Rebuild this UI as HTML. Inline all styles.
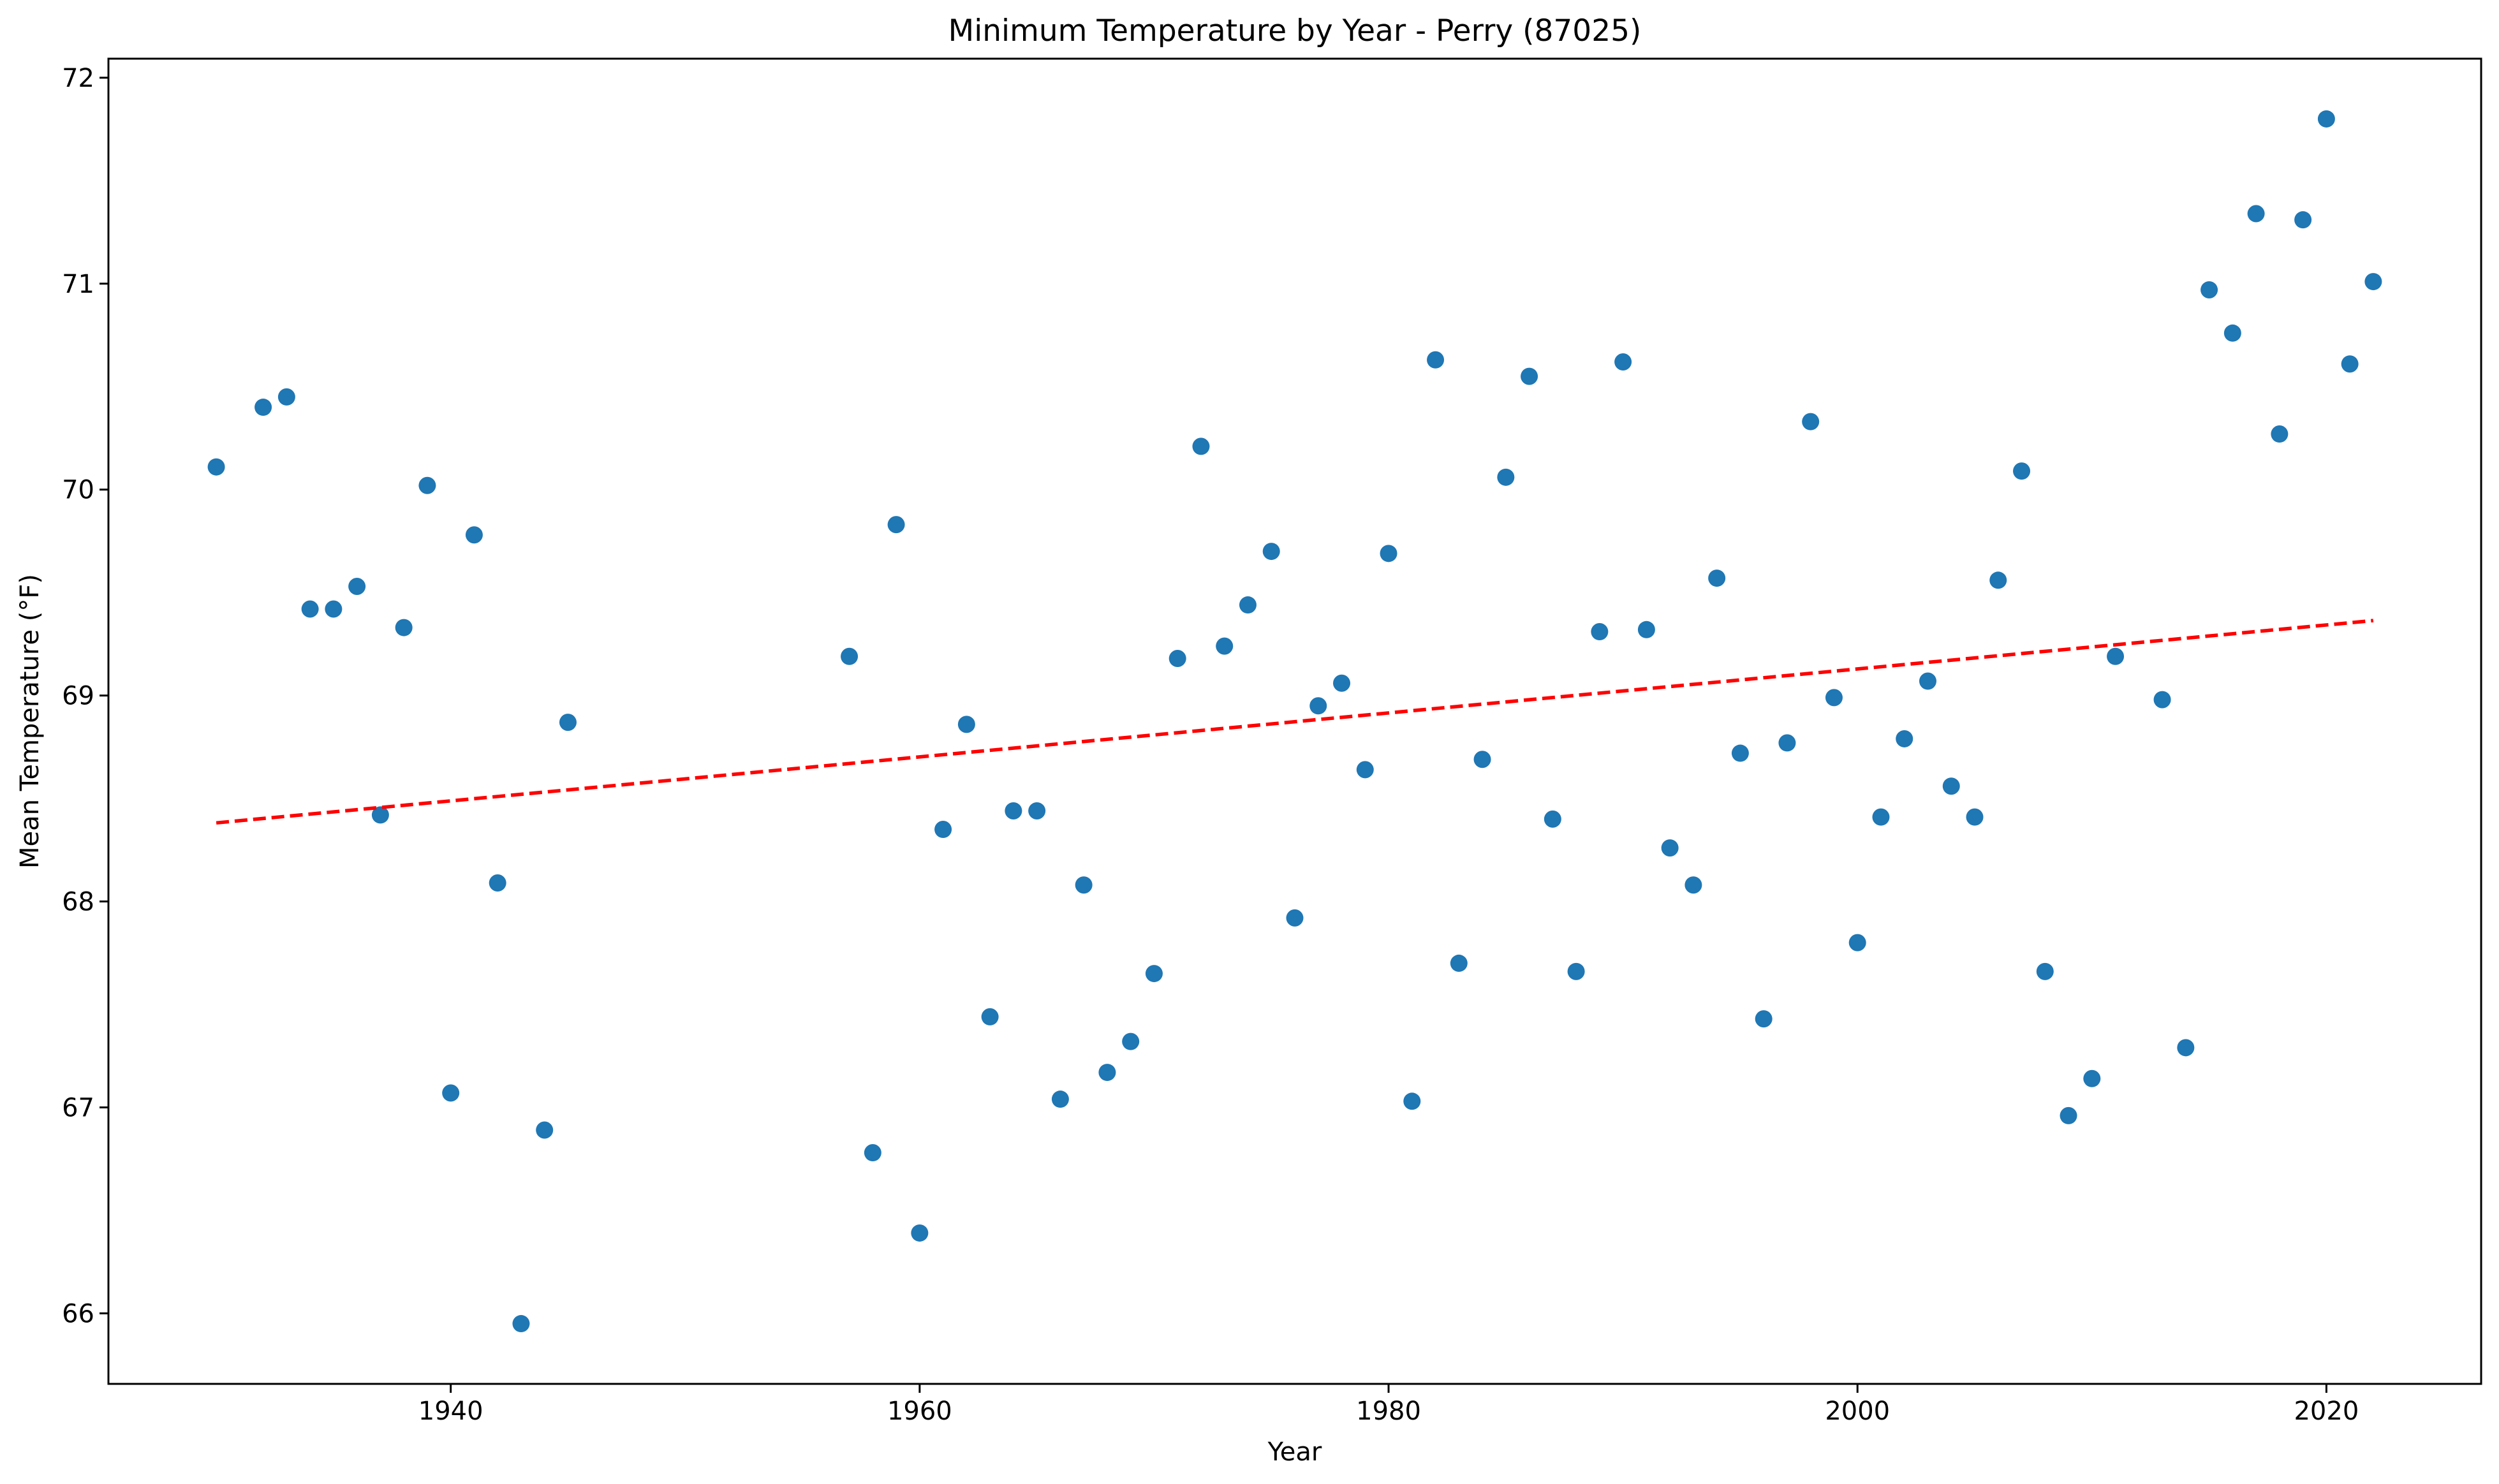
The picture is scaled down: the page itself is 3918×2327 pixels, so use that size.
<!DOCTYPE html>
<html><head><meta charset="utf-8"><style>
html,body{margin:0;padding:0;background:#fff;}
svg{display:block;font-family:"DejaVu Sans","Liberation Sans",sans-serif;}
</style></head><body>
<svg id="chart" width="3918" height="2327" viewBox="0 0 3918 2327">
<rect width="3918" height="2327" fill="#fff"/>
<text x="2030" y="64" font-size="47" text-anchor="middle">Minimum Temperature by Year - Perry (87025)</text>
<text x="2030" y="2290" font-size="40" text-anchor="middle">Year</text>
<text x="60" y="1131" font-size="40" text-anchor="middle" transform="rotate(-90 60 1131)">Mean Temperature (°F)</text>
<g id="ticks"></g>
<g id="points"></g>
<g id="trend"></g>
<rect x="170" y="92" width="3720" height="2078" fill="none" stroke="#000" stroke-width="3"/>
</svg>
<script>
const years=[1930,1932,1933,1934,1935,1936,1937,1938,1939,1940,1941,1942,1943,1944,1945,1957,1958,1959,1960,1961,1962,1963,1964,1965,1966,1967,1968,1969,1970,1971,1972,1973,1974,1975,1976,1977,1978,1979,1980,1981,1982,1983,1984,1985,1986,1987,1988,1989,1990,1991,1992,1993,1994,1995,1996,1997,1998,1999,2000,2001,2002,2003,2004,2005,2006,2007,2008,2009,2010,2011,2013,2014,2015,2016,2017,2018,2019,2020,2021,2022];
const temps=[70.11,70.40,70.45,69.42,69.42,69.53,68.42,69.33,70.02,67.07,69.78,68.09,65.95,66.89,68.87,69.19,66.78,69.83,66.39,68.35,68.86,67.44,68.44,68.44,67.04,68.08,67.17,67.32,67.65,69.18,70.21,69.24,69.44,69.70,67.92,68.95,69.06,68.64,69.69,67.03,70.63,67.70,68.69,70.06,70.55,68.40,67.66,69.31,70.62,69.32,68.26,68.08,69.57,68.72,67.43,68.77,70.33,68.99,67.80,68.41,68.79,69.07,68.56,68.41,69.56,70.09,67.66,66.96,67.14,69.19,68.98,67.29,70.97,70.76,71.34,70.27,71.31,71.80,70.61,71.01];
const xTicks=[1940,1960,1980,2000,2020];
const yTicks=[66,67,68,69,70,71,72];
const NS='http://www.w3.org/2000/svg';
const L=170,R=3890,T=92,B=2170;
const xmin=Math.min(...years),xmax=Math.max(...years),xs=(xmax-xmin)*0.05;
const ymin=Math.min(...temps),ymax=Math.max(...temps),ys=(ymax-ymin)*0.05;
const X0=xmin-xs,X1=xmax+xs,Y0=ymin-ys,Y1=ymax+ys;
const x=v=>L+(v-X0)/(X1-X0)*(R-L);
const y=v=>B-(v-Y0)/(Y1-Y0)*(B-T);
function mk(t,a,p){const e=document.createElementNS(NS,t);for(const k in a)e.setAttribute(k,a[k]);p.appendChild(e);return e;}
const tg=document.getElementById('ticks');
xTicks.forEach(v=>{
 const l=mk('line',{x1:x(v),x2:x(v),y1:B,y2:B+14,stroke:'#000','stroke-width':3},tg);
 
 
 const t=mk('text',{x:x(v),y:B+56,'font-size':40,'text-anchor':'middle'},tg);t.textContent=v;
 
 
});
yTicks.forEach(v=>{
 const l=mk('line',{x1:L-14,x2:L,y1:y(v),y2:y(v),stroke:'#000','stroke-width':3},tg);
 
 
 const t=mk('text',{x:L-22,y:y(v)+14,'font-size':40,'text-anchor':'end'},tg);t.textContent=v;
 
 
});
const pg=document.getElementById('points');
years.forEach((yr,i)=>{
 const c=mk('circle',{cx:x(yr),cy:y(temps[i]),r:13.5,fill:'#1f77b4'},pg);
 
 
});
const n=years.length,mx=years.reduce((a,b)=>a+b)/n,my=temps.reduce((a,b)=>a+b)/n;
let sxy=0,sxx=0;years.forEach((v,i)=>{sxy+=(v-mx)*(temps[i]-my);sxx+=(v-mx)*(v-mx);});
const m=sxy/sxx,b=my-m*mx;
const tl=mk('line',{x1:x(xmin),y1:y(m*xmin+b),x2:x(xmax),y2:y(m*xmax+b),stroke:'#ff0000','stroke-width':5.5,'stroke-dasharray':'20 9'},document.getElementById('trend'));


</script>
</body></html>
